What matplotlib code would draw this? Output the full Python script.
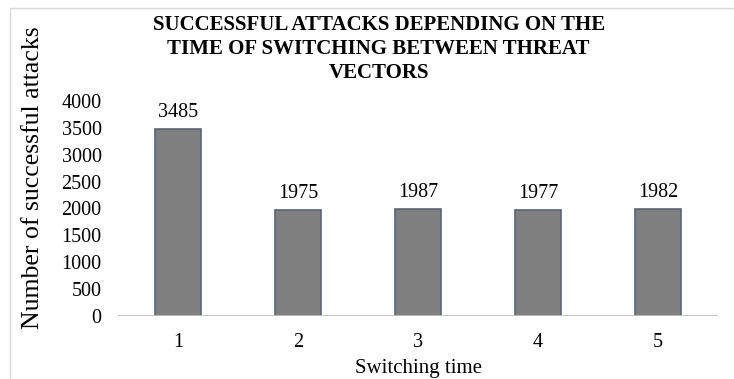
import matplotlib.pyplot as plt
from matplotlib.patches import Rectangle

plt.rcParams.update({
    "font.family": ["Liberation Serif", "DejaVu Serif"],
    "font.size": 14.5,
})

switching_time = ["1", "2", "3", "4", "5"]
successful_attacks = [3485, 1975, 1987, 1977, 1982]
y_ticks = [0, 500, 1000, 1500, 2000, 2500, 3000, 3500, 4000]

fig = plt.figure(figsize=(7.34, 3.79), dpi=100)
ax = fig.add_axes([0.161, 0.166, 0.817, 0.568])

# chart-area frame (only top and left edges fall inside the image)
fig.patches.append(Rectangle((10 / 734, -0.1), 1.2, 1 - 8 / 379 + 0.1,
                             transform=fig.transFigure, fill=False,
                             edgecolor="#d9d9d9", lw=1.0))

x = range(len(switching_time))
ax.bar(x, successful_attacks, width=0.38, color="#7f7f7f",
       edgecolor="#56677a", linewidth=1.2, zorder=2)
for xi, v in zip(x, successful_attacks):
    ax.annotate(str(v), (xi, v), xytext=(0, 5), textcoords="offset points",
                ha="center", va="bottom", fontsize=14.5)

ax.axhline(0, color="#bfbfbf", lw=2, zorder=3)
ax.set_xlim(-0.5, 4.5)
ax.set_ylim(0, 4000)
ax.set_xticks(list(x))
ax.set_xticklabels(switching_time)
ax.set_yticks(y_ticks)
ax.tick_params(axis="x", length=0, pad=12)
ax.tick_params(axis="y", length=0, pad=12)
for s in ax.spines.values():
    s.set_visible(False)

fig.text(0.5695, 1 / 379, "Switching time", ha="center", va="bottom",
         fontsize=15)
fig.text(33 / 734, 1 - 178 / 379, "Number of successful attacks",
         rotation=90, ha="center", va="center", fontsize=18.5)

fig.text(0.516, 1 - 15 / 379,
         "SUCCESSFUL ATTACKS DEPENDING ON THE\n"
         "TIME OF SWITCHING BETWEEN THREAT\n"
         "VECTORS",
         ha="center", va="top", fontsize=15, fontweight="bold",
         linespacing=1.28)

fig.savefig("out.png", dpi=100)
